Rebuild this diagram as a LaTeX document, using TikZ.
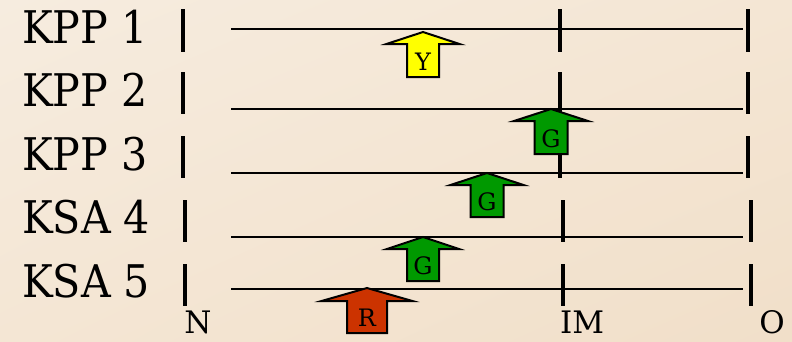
\documentclass[tikz,border=0pt]{standalone}
\usepackage{fontspec}
\setmainfont{DejaVu Serif}
\usetikzlibrary{shadings}
\definecolor{bgA}{HTML}{F6ECDF}
\definecolor{bgB}{HTML}{F1DFC9}
\definecolor{bgC}{HTML}{F4E6D4}
\definecolor{arY}{HTML}{FFFF00}
\definecolor{arG}{HTML}{009900}
\definecolor{arR}{HTML}{CC3300}
\tikzset{
  rowlabel/.style={anchor=base west, inner sep=0pt, font=\fontsize{45}{45}\selectfont},
  axlabel/.style={anchor=base, inner sep=0pt, font=\fontsize{31}{31}\selectfont},
  arlabel/.style={inner sep=0pt, font=\fontsize{24}{24}\selectfont},
  track/.style={line width=2pt, black},
  tick/.style={line width=3.5pt, black},
  blk/.style={draw=black, line width=2pt, line join=miter}
}
\newcommand\narrowtext[1]{\scalebox{0.915}[1]{#1}}
\newcommand\blkarrow[9]{% name, cx, tip, headhalf, shafthalf, headbase, bottom, colour, letter
  \fill[#8] (#2,#3) -- (#2+#4,#6) -- (#2+#5,#6) -- (#2+#5,#7) -- (#2-#5,#7) -- (#2-#5,#6) -- (#2-#4,#6) -- cycle;
  \draw[blk] (#2,#3) -- (#2+#4,#6) -- (#2+#5,#6) -- (#2+#5,#7) -- (#2-#5,#7) -- (#2-#5,#6) -- (#2-#4,#6) -- cycle;
  \node[arlabel] (#1) at (#2,{(#6+#7)/2+1}) {#9};
}
\begin{document}
\begin{tikzpicture}[x=1pt,y=-1pt]
\useasboundingbox (0,0) rectangle (792,341);
\shade[upper left=bgA, upper right=bgC, lower left=bgC, lower right=bgB] (0,0) rectangle (792,341);
% row labels
\node[rowlabel] (k1) at (22,43) {\narrowtext{KPP 1}};
\node[rowlabel] (k2) at (22,106) {\narrowtext{KPP 2}};
\node[rowlabel] (k3) at (22,170) {\narrowtext{KPP 3}};
\node[rowlabel] (k4) at (22,233) {\narrowtext{KSA 4}};
\node[rowlabel] (k5) at (22,297) {\narrowtext{KSA 5}};
% axis labels
\node[axlabel] (n) at (198,333.5) {N};
\node[axlabel] (im) at (582,333.5) {IM};
\node[axlabel] (o) at (772,333.5) {O};
% tracks
\foreach \i/\y in {1/29,2/109,3/173,4/237,5/289}{
  \coordinate (s\i) at (231,\y);
  \coordinate (e\i) at (743,\y);
  \draw[track] (s\i) -- (e\i);
}
% ticks
\foreach \i/\t/\b/\xl/\xm/\xr in {1/9/52/183/560/748,2/72/114/183/560/748,3/136/178/183/560/748,4/200/242/185/563/751,5/264/306/185/563/751}{
  \draw[tick] (\xl,\t) -- (\xl,\b);
  \draw[tick] (\xm,\t) -- (\xm,\b);
  \draw[tick] (\xr,\t) -- (\xr,\b);
}
% arrows
\blkarrow{ay}{423}{32}{36.5}{16}{44}{77}{arY}{Y}
\blkarrow{ag1}{551}{109}{37}{16.5}{121}{154}{arG}{G}
\blkarrow{ag2}{487}{173}{36.5}{16.5}{185}{217}{arG}{G}
\blkarrow{ag3}{423}{237}{36}{16}{249}{281}{arG}{G}
\blkarrow{ar}{367}{288}{45.5}{20}{301}{333}{arR}{R}
\end{tikzpicture}
\end{document}
